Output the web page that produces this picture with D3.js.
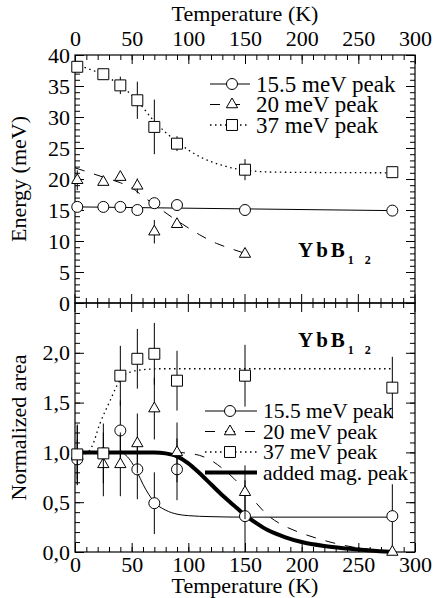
<!DOCTYPE html>
<html>
<head>
<meta charset="utf-8">
<script src="https://cdn.jsdelivr.net/npm/d3@7"></script>
<style>
  body { margin: 0; background: #fff; }
  svg, svg text { font-family: 'Liberation Serif', 'Times New Roman', Times, 'DejaVu Serif', serif; }
</style>
</head>
<body>
<div id="chart"></div>
<script>
const width = 438
const height = 598
const serif = "'Liberation Serif', 'Times New Roman', Times, 'DejaVu Serif', serif"

// temperatures (K) of the measurements
const temps = [2, 25, 40, 55, 70, 90, 150, 280]

// top panel: peak energies (meV)
const energy155 = [15.5, 15.5, 15.5, 15.0, 16.1, 15.8, 15.0, 14.9]
const energy20 = [19.8, 19.5, 20.3, 18.9, 11.5, 12.7, 7.9]
const energy37 = [38.1, 36.9, 35.1, 32.7, 28.4, 25.7, 21.5, 21.1]
const energyErr20 = [1.6, 0, 0, 1.2, 1.9, 0.6, 0]
const energyErr37 = [0, 0, 1.4, 3, 4.4, 1.2, 1.7, 0]

// top panel guide curves
const fitE155 = [[2, 15.5], [280, 14.9]]
const fitE20 = [[0, 21.8], [10, 21.2], [25, 20.3], [40, 19.4], [50, 18.6], [60, 17.2], [72, 15.6], [85, 13.9], [95, 12.7], [110, 11.0], [125, 9.6], [137, 8.8], [150, 8.0]]
const fitE37 = [[0, 38.5], [10, 37.9], [25, 36.8], [40, 35.1], [55, 32.6], [70, 29.3], [90, 26.0], [110, 23.6], [130, 22.2], [150, 21.4], [180, 21.1], [280, 21.0]]

// bottom panel: normalized areas
const area155 = [0.93, 0.99, 1.22, 0.83, 0.49, 0.83, 0.36, 0.36]
const area20 = [0.97, 0.88, 0.88, 1.09, 1.44, 1.0, 0.6, 0.0]
const area37 = [0.98, 0.99, 1.77, 1.94, 1.99, 1.72, 1.77, 1.65]
const areaErr155 = [0.2, 0, 0.3, 0.3, 0.31, 0.31, 0.36, 0.32]
const areaErr20 = [0.3, 0.32, 0.32, 0.3, 0.31, 0.3, 0.27, 0]
const areaErr37 = [0.3, 0.3, 0.3, 0.3, 0.31, 0.3, 0.31, 0.31]

// bottom panel guide curves
const fitA155 = [[0, 1], [40, 1], [45, 0.97], [50, 0.9], [55, 0.8], [60, 0.68], [65, 0.58], [70, 0.5], [80, 0.42], [90, 0.38], [100, 0.365], [120, 0.355], [150, 0.35], [280, 0.35]]
const fitA20 = [[0, 1], [90, 1], [100, 0.99], [110, 0.97], [120, 0.92], [130, 0.84], [140, 0.74], [150, 0.62], [160, 0.49], [170, 0.37], [180, 0.29], [195, 0.21], [210, 0.15], [225, 0.1], [245, 0.05], [265, 0.02], [280, 0]]
const fitA37 = [[0, 0.97], [10, 0.99], [15, 1.06], [22, 1.29], [31, 1.52], [37, 1.67], [43, 1.77], [50, 1.81], [60, 1.83], [75, 1.84], [280, 1.84]]
const fitMag = [[0, 1], [70, 1], [80, 0.99], [90, 0.96], [100, 0.89], [110, 0.79], [120, 0.68], [130, 0.57], [140, 0.47], [150, 0.37], [160, 0.29], [170, 0.22], [185, 0.15], [200, 0.1], [220, 0.06], [240, 0.035], [260, 0.015], [280, 0]]

const legendLabels = ['15.5 meV peak', '20 meV peak', '37 meV peak', 'added mag. peak']

const xTicks = [0, 50, 100, 150, 200, 250, 300]
const energyTicks = [0, 5, 10, 15, 20, 25, 30, 35, 40]
const areaTicks = [0, 0.5, 1.0, 1.5, 2.0]

const left = 75, right = 415
const topY0 = 55, midY = 303, botY = 552

const x = d3.scaleLinear().domain([0, 300]).range([left, right])
const yE = d3.scaleLinear().domain([0, 40]).range([midY, topY0])
const yA = d3.scaleLinear().domain([0, 2.5]).range([botY, midY])

const svg = d3.select('#chart').append('svg')
    .attr('width', width)
    .attr('height', height)
    .style('font-family', serif)

svg.append('rect').attr('width', width).attr('height', height).attr('fill', '#fff')

const fmtComma = d => d3.format('.1f')(d).replace('.', ',')
const minorX = d3.range(0, 301, 10)

function styleAxis(sel) {
    sel.attr('font-family', null).attr('font-size', 22)
    sel.select('.domain').remove()
    sel.selectAll('text').attr('fill', '#000').style('font-family', serif)
}

// --- frames & axes ---
function frame(y, yt, ymin, fmt, showTop, showBottom) {
    const g = svg.append('g')
    const [y0, y1] = y.range()

    g.append('g')
        .attr('transform', `translate(${left},0)`)
        .call(d3.axisLeft(y).tickValues(yt).tickSize(-9).tickPadding(5).tickFormat(fmt))
        .call(styleAxis)
    g.append('g')
        .attr('transform', `translate(${left},0)`)
        .call(d3.axisLeft(y).tickValues(ymin).tickSize(-5).tickFormat(''))
        .call(styleAxis)
    g.append('g')
        .attr('transform', `translate(${right},0)`)
        .call(d3.axisRight(y).tickValues(yt).tickSize(-9).tickFormat(''))
        .call(styleAxis)
    g.append('g')
        .attr('transform', `translate(${right},0)`)
        .call(d3.axisRight(y).tickValues(ymin).tickSize(-5).tickFormat(''))
        .call(styleAxis)

    if (showTop) {
        g.append('g')
            .attr('transform', `translate(0,${y1})`)
            .call(d3.axisTop(x).tickValues(xTicks).tickSize(-9).tickPadding(9))
            .call(styleAxis)
        g.append('g')
            .attr('transform', `translate(0,${y1})`)
            .call(d3.axisTop(x).tickValues(minorX).tickSize(-5).tickFormat(''))
            .call(styleAxis)
    }
    if (showBottom) {
        g.append('g')
            .attr('transform', `translate(0,${y0})`)
            .call(d3.axisBottom(x).tickValues(xTicks).tickSize(-9).tickPadding(4))
            .call(styleAxis)
        g.append('g')
            .attr('transform', `translate(0,${y0})`)
            .call(d3.axisBottom(x).tickValues(minorX).tickSize(-5).tickFormat(''))
            .call(styleAxis)
    }
    g.append('rect')
        .attr('x', left).attr('y', y1)
        .attr('width', right - left).attr('height', y0 - y1)
        .attr('fill', 'none').attr('stroke', '#000').attr('stroke-width', 1.2)
}

frame(yE, energyTicks, d3.range(0, 41, 1), d3.format('d'), true, false)
frame(yA, areaTicks, d3.range(0, 2.51, 0.1), fmtComma, false, true)

// shared boundary: ticks crossing both panels
svg.append('g').selectAll('line')
    .data(minorX)
    .join('line')
    .attr('x1', d => x(d)).attr('x2', d => x(d))
    .attr('y1', d => midY - (d % 50 === 0 ? 9 : 5))
    .attr('y2', d => midY + (d % 50 === 0 ? 9 : 5))
    .attr('stroke', '#000')

// --- curves ---
const styles = {
    s155: { dash: null, width: 1 },
    s20: { dash: '10,10', width: 1 },
    s37: { dash: '1.5,3.5', width: 1.3 },
    mag: { dash: null, width: 4 }
}

function curve(pts, y, st) {
    svg.append('path')
        .datum(pts)
        .attr('fill', 'none')
        .attr('stroke', '#000')
        .attr('stroke-width', st.width)
        .attr('stroke-dasharray', st.dash)
        .attr('d', d3.line().x(d => x(d[0])).y(d => y(d[1])).curve(d3.curveMonotoneX))
}

curve(fitE155, yE, styles.s155)
curve(fitE20, yE, styles.s20)
curve(fitE37, yE, styles.s37)

curve(fitA37, yA, styles.s37)
curve(fitA155, yA, styles.s155)
curve(fitA20, yA, styles.s20)
curve(fitMag, yA, styles.mag)

// --- points ---
const symCircle = d3.symbol().type(d3.symbolCircle).size(95)
const symTri = d3.symbol().type(d3.symbolTriangle).size(55)
const symSquare = d3.symbol().type(d3.symbolSquare).size(120)

function points(vals, errs, y, sym) {
    const data = vals.map((v, i) => ({ t: temps[i], v, e: errs ? errs[i] : 0 }))
    const g = svg.append('g')
    g.selectAll('line')
        .data(data.filter(d => d.e > 0))
        .join('line')
        .attr('x1', d => x(d.t)).attr('x2', d => x(d.t))
        .attr('y1', d => y(Math.max(0, d.v - d.e)))
        .attr('y2', d => y(d.v + d.e))
        .attr('stroke', '#000')
    g.selectAll('path')
        .data(data)
        .join('path')
        .attr('transform', d => `translate(${x(d.t)},${y(d.v)})`)
        .attr('d', sym)
        .attr('fill', '#fff')
        .attr('stroke', '#000')
        .attr('stroke-width', 1)
}

points(energy155, null, yE, symCircle)
points(energy20, energyErr20, yE, symTri)
points(energy37, energyErr37, yE, symSquare)

points(area155, areaErr155, yA, symCircle)
points(area20, areaErr20, yA, symTri)
points(area37, areaErr37, yA, symSquare)

// --- legends ---
function legend(x0, x1, xm, y0, dy, fs, items) {
    const g = svg.append('g')
    items.forEach((it, i) => {
        const yy = y0 + i * dy
        g.append('line')
            .attr('x1', x0).attr('x2', x1).attr('y1', yy).attr('y2', yy)
            .attr('stroke', '#000')
            .attr('stroke-width', it.st.width)
            .attr('stroke-dasharray', it.st.dash)
        if (it.sym) {
            g.append('path')
                .attr('transform', `translate(${xm},${yy})`)
                .attr('d', it.sym)
                .attr('fill', '#fff').attr('stroke', '#000')
        }
        g.append('text')
            .attr('x', x1 + 6).attr('y', yy + fs * 0.33)
            .attr('font-size', fs)
            .text(it.label)
    })
}

legend(210, 250, 232, 84, 20.5, 23, [
    { st: styles.s155, sym: symCircle, label: legendLabels[0] },
    { st: styles.s20, sym: symTri, label: legendLabels[1] },
    { st: styles.s37, sym: symSquare, label: legendLabels[2] }
])
legend(205, 257, 230, 411, 20.5, 21.5, [
    { st: styles.s155, sym: symCircle, label: legendLabels[0] },
    { st: styles.s20, sym: symTri, label: legendLabels[1] },
    { st: styles.s37, sym: symSquare, label: legendLabels[2] },
    { st: styles.mag, sym: null, label: legendLabels[3] }
])

// --- compound label ---
function compound(xx, yy) {
    const t = svg.append('text')
        .attr('x', xx).attr('y', yy)
        .attr('font-weight', 'bold')
        .attr('font-size', 21)
        .attr('letter-spacing', 3)
    t.append('tspan').text('YbB')
    t.append('tspan').attr('font-size', 12).attr('dy', 7).attr('letter-spacing', 4).text('1 2')
}
compound(298, 257)
compound(298, 347)

// --- axis titles ---
svg.append('text')
    .attr('x', (left + right) / 2).attr('y', 21)
    .attr('text-anchor', 'middle').attr('font-size', 22)
    .text('Temperature (K)')
svg.append('text')
    .attr('x', (left + right) / 2).attr('y', 593)
    .attr('text-anchor', 'middle').attr('font-size', 22)
    .text('Temperature (K)')
svg.append('text')
    .attr('transform', `translate(26,${(topY0 + midY) / 2}) rotate(-90)`)
    .attr('text-anchor', 'middle').attr('font-size', 22)
    .text('Energy (meV)')
svg.append('text')
    .attr('transform', `translate(26,${(midY + botY) / 2}) rotate(-90)`)
    .attr('text-anchor', 'middle').attr('font-size', 22)
    .text('Normalized area')
</script>
</body>
</html>
